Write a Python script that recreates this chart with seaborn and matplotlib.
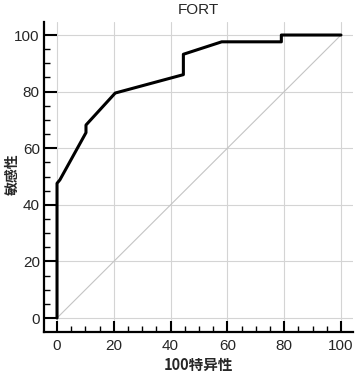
import matplotlib
matplotlib.use("Agg")
import matplotlib.pyplot as plt
import seaborn as sns
import pandas as pd
from matplotlib.ticker import MultipleLocator

# ROC curve points (100 - specificity, sensitivity)
fpr = [0, 0, 1, 10.2, 10.2, 20.5, 44.5, 44.5, 58, 79, 79, 100]
tpr = [0, 47.6, 48.8, 65.5, 68.2, 79.5, 86, 93.2, 97.6, 97.6, 100, 100]
diag_x = [0, 100]
diag_y = [0, 100]
ticks = [0, 20, 40, 60, 80, 100]
title = "FORT"
xlabel = "100特异性"
ylabel = "敏感性"

sns.set_style("white")
plt.rcParams['font.family'] = ['Liberation Sans', 'Noto Sans CJK SC', 'DejaVu Sans']

fig = plt.figure(figsize=(3.59, 3.73), dpi=100)
ax = fig.add_axes([0.1226, 0.1107, 0.8604, 0.8303])

df = pd.DataFrame({"x": fpr, "y": tpr})
dd = pd.DataFrame({"x": diag_x, "y": diag_y})

sns.lineplot(data=dd, x="x", y="y", ax=ax, color="#c4c4c4", linewidth=0.8,
             sort=False, estimator=None, zorder=2)
sns.lineplot(data=df, x="x", y="y", ax=ax, color="black", linewidth=2.2,
             sort=False, estimator=None, zorder=3)

ax.set_xlim(-4.58, 104.2)
ax.set_ylim(-4.84, 104.6)
ax.set_xticks(ticks)
ax.set_yticks(ticks)
ax.xaxis.set_minor_locator(MultipleLocator(5))
ax.yaxis.set_minor_locator(MultipleLocator(5))
ax.grid(True, which="major", color="#d4d4d4", linewidth=0.8)
ax.set_axisbelow(True)

for s in ["top", "right"]:
    ax.spines[s].set_visible(False)
for s in ["left", "bottom"]:
    ax.spines[s].set_visible(True)
    ax.spines[s].set_color("black")
    ax.spines[s].set_linewidth(1.6)

ax.tick_params(axis="x", which="major", direction="in", length=8, width=1.5,
               color="black", labelsize=11, pad=5, bottom=True)
ax.tick_params(axis="y", which="major", direction="in", length=9.4, width=1.5,
               color="black", labelsize=11, pad=3, left=True)
ax.tick_params(axis="both", which="minor", direction="in", length=4, width=1.0,
               color="black", bottom=True, left=True)

ax.set_title(title, fontsize=11, pad=6)
ax.set_xlabel(xlabel, fontsize=10.5, fontweight="bold",
              family=['Noto Sans CJK SC', 'DejaVu Sans'], labelpad=3)
ax.set_ylabel("")
fig.text(13 / 359, 1 - 174 / 373, ylabel, rotation=90, ha="center", va="center",
         fontsize=10, fontweight="bold", family=['Noto Sans CJK SC', 'DejaVu Sans'])

fig.savefig("out.png", dpi=100)
